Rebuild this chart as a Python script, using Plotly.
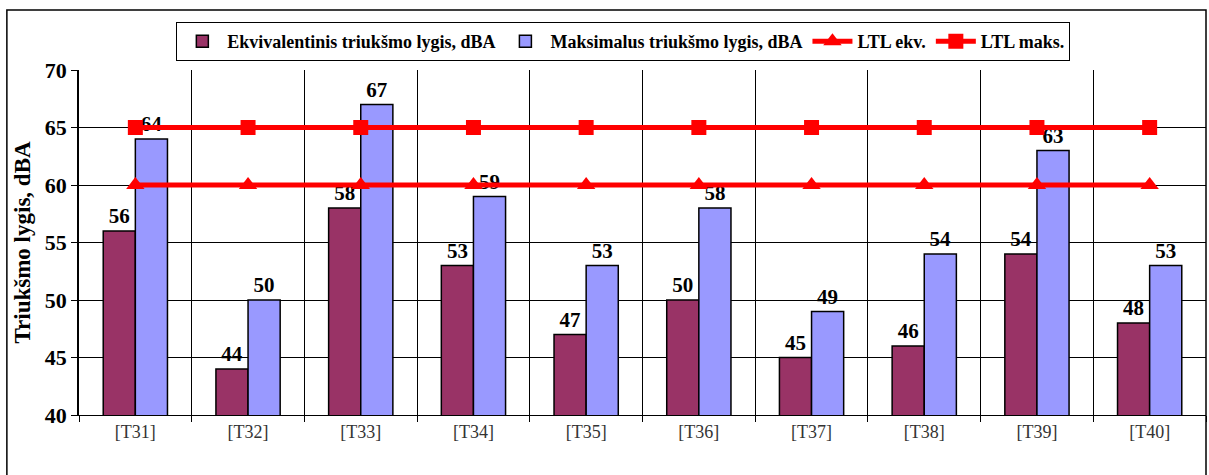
import plotly.graph_objects as go

points = ["[T31]", "[T32]", "[T33]", "[T34]", "[T35]", "[T36]", "[T37]", "[T38]", "[T39]", "[T40]"]
ekv = [56, 44, 58, 53, 47, 50, 45, 46, 54, 48]
maks = [64, 50, 67, 59, 53, 58, 49, 54, 63, 53]
ltl_ekv = [60] * len(points)
ltl_maks = [65] * len(points)

FONT = "Liberation Serif"

fig = go.Figure()
fig.add_trace(go.Bar(
    x=points, y=ekv, name="Ekvivalentinis triukšmo lygis, dBA",
    marker=dict(color="#993366", line=dict(color="black", width=1.5)),
    text=ekv, textposition="outside",
    textfont=dict(family=FONT, size=21, color="black", weight="bold"),
))
fig.add_trace(go.Bar(
    x=points, y=maks, name="Maksimalus triukšmo lygis, dBA",
    marker=dict(color="#9999FF", line=dict(color="black", width=1.5)),
    text=maks, textposition="outside",
    textfont=dict(family=FONT, size=21, color="black", weight="bold"),
))
fig.add_trace(go.Scatter(
    x=points, y=ltl_ekv, name="LTL ekv.", mode="lines+markers",
    line=dict(color="#FF0000", width=5),
    marker=dict(symbol="triangle-up", size=16, color="#FF0000"),
))
fig.add_trace(go.Scatter(
    x=points, y=ltl_maks, name="LTL maks.", mode="lines+markers",
    line=dict(color="#FF0000", width=5),
    marker=dict(symbol="square", size=15, color="#FF0000"),
))

fig.update_layout(
    width=1209, height=475,
    margin=dict(l=79, r=3, t=70, b=60, autoexpand=False),
    paper_bgcolor="white", plot_bgcolor="white",
    font=dict(family=FONT, color="black"),
    barmode="group", bargap=0.43, bargroupgap=0,
    showlegend=True,
    legend=dict(
        orientation="h", x=0.483, xanchor="center", y=1.139, yanchor="top",
        bgcolor="white", bordercolor="black", borderwidth=1,
        font=dict(family=FONT, size=18, color="black", weight="bold"),
        traceorder="normal", itemwidth=40,
    ),
    xaxis=dict(
        type="category", range=[-0.5, len(points) - 0.5],
        tickson="boundaries", ticks="outside", ticklen=6,
        tickcolor="black", showgrid=True, gridcolor="black", gridwidth=1,
        showline=True, linecolor="black", linewidth=1,
        tickfont=dict(family=FONT, size=18, color="#333333"),
        automargin=False,
    ),
    yaxis=dict(
        range=[40, 70], dtick=5, ticks="outside", ticklen=6, tickcolor="black",
        showgrid=True, gridcolor="black", gridwidth=1,
        showline=True, linecolor="black", linewidth=1.5,
        tickfont=dict(family=FONT, size=22, color="black", weight="bold"),
        title=dict(text="Triukšmo lygis, dBA", standoff=8,
                   font=dict(family=FONT, size=23, color="black", weight="bold")),
        automargin=False,
    ),
    shapes=[dict(type="rect", xref="paper", yref="paper",
                 x0=-0.064, x1=1.0, y0=-0.5, y1=1.174,
                 line=dict(color="black", width=1.5), fillcolor="rgba(0,0,0,0)")],
)

fig.write_html("out.html", config={"displayModeBar": False},
               post_script="document.body.style.margin='0';")
